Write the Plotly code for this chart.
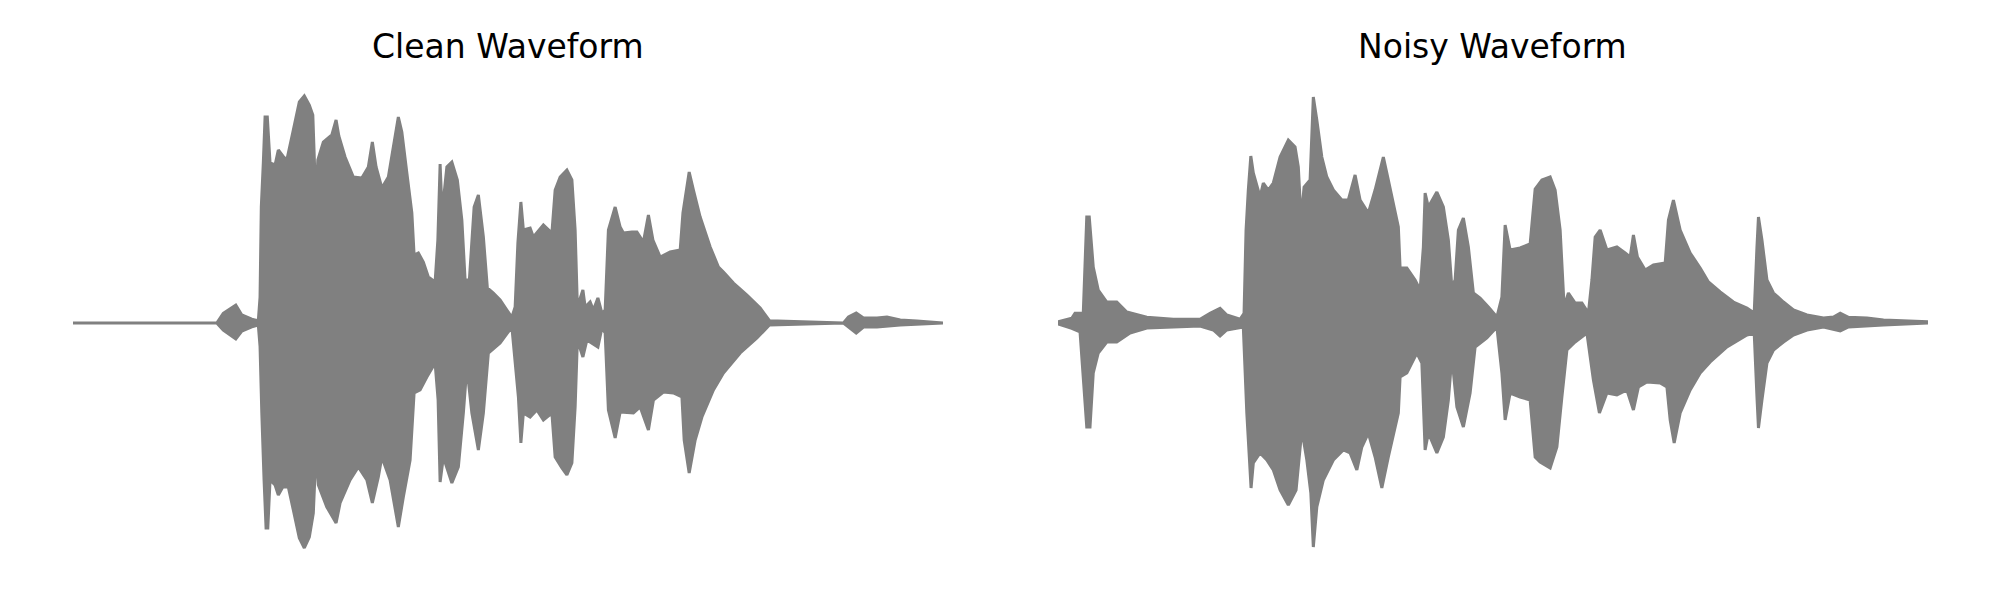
import plotly.graph_objects as go

# ---------------- data: waveform envelopes (time in s, amplitude) ----------------
titles = ["Clean Waveform", "Noisy Waveform"]
duration = 3.479

clean_upper_t = [0.000, 0.575, 0.601, 0.651, 0.675, 0.715, 0.741, 0.748, 0.753, 0.761, 0.768, 0.777, 0.788,
                 0.808, 0.821, 0.839, 0.855, 0.881, 0.905, 0.925, 0.945, 0.959, 0.967, 0.972, 0.979, 1.001,
                 1.035, 1.052, 1.063, 1.088, 1.121, 1.155, 1.181, 1.197, 1.212, 1.235, 1.261, 1.281, 1.301,
                 1.315, 1.335, 1.355, 1.364, 1.381, 1.401, 1.421, 1.448, 1.459, 1.468, 1.476, 1.495, 1.515,
                 1.537, 1.555, 1.568, 1.585, 1.604, 1.621, 1.641, 1.657, 1.681, 1.708, 1.735, 1.755, 1.768,
                 1.779, 1.791, 1.801, 1.828, 1.841, 1.881, 1.915, 1.928, 1.948, 1.975, 1.995, 2.008, 2.017,
                 2.039, 2.048, 2.068, 2.081, 2.099, 2.115, 2.128, 2.141, 2.168, 2.188, 2.201, 2.235, 2.255,
                 2.281, 2.301, 2.319, 2.348, 2.388, 2.428, 2.439, 2.464, 2.481, 2.508, 2.548, 2.581, 2.601,
                 2.641, 2.695, 2.748, 2.785, 3.081, 3.101, 3.132, 3.161, 3.215, 3.255, 3.308, 3.375, 3.479]
clean_upper_a = [0.0, 0.0, 0.039, 0.072, 0.032, 0.015, 0.009, 0.104, 0.464, 0.640, 0.824, 0.824, 0.640,
                 0.632, 0.692, 0.668, 0.652, 0.772, 0.884, 0.908, 0.872, 0.832, 0.600, 0.504, 0.652, 0.724,
                 0.752, 0.812, 0.748, 0.664, 0.584, 0.580, 0.624, 0.724, 0.624, 0.540, 0.584, 0.704, 0.824,
                 0.764, 0.600, 0.440, 0.272, 0.280, 0.244, 0.184, 0.164, 0.332, 0.636, 0.440, 0.624, 0.644,
                 0.572, 0.412, 0.172, 0.172, 0.464, 0.512, 0.344, 0.140, 0.120, 0.092, 0.052, 0.023, 0.064,
                 0.320, 0.484, 0.372, 0.380, 0.344, 0.392, 0.360, 0.532, 0.584, 0.612, 0.572, 0.372, 0.064,
                 0.132, 0.064, 0.084, 0.052, 0.100, 0.039, 0.052, 0.372, 0.464, 0.384, 0.360, 0.364, 0.364,
                 0.324, 0.432, 0.332, 0.264, 0.284, 0.292, 0.440, 0.604, 0.532, 0.424, 0.304, 0.224, 0.204,
                 0.160, 0.112, 0.060, 0.009, 0.0, 0.024, 0.040, 0.020, 0.020, 0.024, 0.012, 0.008, 0.0]

clean_lower_t = [0.000, 0.575, 0.601, 0.651, 0.675, 0.715, 0.741, 0.748, 0.755, 0.764, 0.772, 0.779, 0.788,
                 0.808, 0.821, 0.839, 0.861, 0.881, 0.905, 0.925, 0.945, 0.961, 0.972, 0.981, 1.015, 1.052,
                 1.068, 1.108, 1.141, 1.175, 1.197, 1.221, 1.235, 1.268, 1.301, 1.321, 1.348, 1.364, 1.388,
                 1.415, 1.448, 1.460, 1.468, 1.481, 1.515, 1.541, 1.561, 1.575, 1.595, 1.621, 1.641, 1.661,
                 1.708, 1.755, 1.781, 1.791, 1.801, 1.828, 1.855, 1.881, 1.915, 1.928, 1.955, 1.975, 1.995,
                 2.008, 2.017, 2.039, 2.055, 2.099, 2.115, 2.128, 2.141, 2.168, 2.188, 2.241, 2.268, 2.301,
                 2.321, 2.361, 2.401, 2.435, 2.444, 2.464, 2.488, 2.515, 2.561, 2.601, 2.668, 2.735, 2.785,
                 3.081, 3.132, 3.161, 3.215, 3.308, 3.479]
clean_lower_a = [0.0, 0.0, -0.028, -0.064, -0.032, -0.015, -0.008, -0.095, -0.360, -0.628, -0.820, -0.820,
                 -0.628, -0.648, -0.688, -0.656, -0.656, -0.748, -0.860, -0.900, -0.856, -0.760, -0.508,
                 -0.648, -0.736, -0.800, -0.720, -0.628, -0.576, -0.628, -0.720, -0.616, -0.536, -0.628,
                 -0.816, -0.696, -0.548, -0.280, -0.268, -0.216, -0.160, -0.308, -0.636, -0.536, -0.640,
                 -0.576, -0.360, -0.176, -0.360, -0.508, -0.360, -0.120, -0.080, -0.016, -0.295, -0.480,
                 -0.360, -0.376, -0.348, -0.388, -0.360, -0.536, -0.580, -0.608, -0.560, -0.336, -0.068,
                 -0.136, -0.068, -0.096, -0.020, -0.040, -0.348, -0.460, -0.356, -0.360, -0.336, -0.428,
                 -0.308, -0.276, -0.280, -0.296, -0.468, -0.600, -0.468, -0.376, -0.268, -0.200, -0.120,
                 -0.060, -0.008, 0.0, -0.040, -0.016, -0.016, -0.008, 0.0]

noisy_upper_t = [0.000, 0.055, 0.068, 0.101, 0.115, 0.125, 0.141, 0.161, 0.195, 0.235, 0.275, 0.355, 0.461,
                 0.568, 0.608, 0.648, 0.675, 0.728, 0.744, 0.752, 0.761, 0.771, 0.781, 0.808, 0.821, 0.841,
                 0.861, 0.888, 0.921, 0.948, 0.961, 0.972, 0.984, 1.008, 1.021, 1.035, 1.055, 1.075, 1.101,
                 1.135, 1.161, 1.188, 1.208, 1.241, 1.268, 1.301, 1.321, 1.361, 1.368, 1.395, 1.428, 1.448,
                 1.461, 1.468, 1.481, 1.515, 1.541, 1.561, 1.575, 1.588, 1.601, 1.621, 1.641, 1.661, 1.688,
                 1.721, 1.755, 1.775, 1.788, 1.808, 1.848, 1.888, 1.908, 1.935, 1.968, 1.988, 2.008, 2.024,
                 2.041, 2.068, 2.095, 2.121, 2.135, 2.148, 2.168, 2.195, 2.235, 2.268, 2.288, 2.301, 2.317,
                 2.348, 2.381, 2.428, 2.441, 2.461, 2.488, 2.528, 2.568, 2.601, 2.648, 2.701, 2.755, 2.784,
                 2.795, 2.801, 2.815, 2.835, 2.861, 2.901, 2.941, 2.995, 3.061, 3.101, 3.128, 3.161, 3.235,
                 3.301, 3.479]
noisy_upper_a = [0.005, 0.019, 0.039, 0.039, 0.424, 0.424, 0.224, 0.132, 0.084, 0.084, 0.044, 0.023, 0.015,
                 0.015, 0.039, 0.059, 0.032, 0.015, 0.039, 0.372, 0.532, 0.668, 0.600, 0.504, 0.560, 0.532,
                 0.560, 0.664, 0.732, 0.704, 0.624, 0.412, 0.544, 0.572, 0.904, 0.812, 0.664, 0.584, 0.532,
                 0.492, 0.492, 0.592, 0.492, 0.440, 0.532, 0.664, 0.572, 0.384, 0.220, 0.220, 0.172, 0.132,
                 0.304, 0.520, 0.464, 0.524, 0.464, 0.332, 0.144, 0.172, 0.372, 0.420, 0.304, 0.120, 0.100,
                 0.064, 0.024, 0.104, 0.392, 0.292, 0.300, 0.316, 0.536, 0.572, 0.584, 0.532, 0.372, 0.064,
                 0.120, 0.080, 0.080, 0.040, 0.172, 0.344, 0.372, 0.292, 0.304, 0.280, 0.264, 0.352, 0.264,
                 0.212, 0.232, 0.240, 0.412, 0.492, 0.372, 0.280, 0.220, 0.164, 0.124, 0.084, 0.060, 0.040,
                 0.304, 0.424, 0.332, 0.172, 0.120, 0.084, 0.052, 0.032, 0.020, 0.024, 0.039, 0.023, 0.020,
                 0.012, 0.005]

noisy_lower_t = [0.000, 0.055, 0.088, 0.115, 0.128, 0.141, 0.161, 0.195, 0.235, 0.288, 0.355, 0.568, 0.621,
                 0.648, 0.675, 0.741, 0.755, 0.765, 0.772, 0.781, 0.808, 0.835, 0.861, 0.888, 0.921, 0.952,
                 0.975, 0.995, 1.011, 1.021, 1.035, 1.061, 1.101, 1.141, 1.168, 1.195, 1.215, 1.241, 1.268,
                 1.295, 1.321, 1.361, 1.368, 1.395, 1.435, 1.455, 1.468, 1.481, 1.515, 1.541, 1.561, 1.575,
                 1.595, 1.621, 1.648, 1.668, 1.715, 1.755, 1.775, 1.788, 1.808, 1.848, 1.888, 1.908, 1.928,
                 1.968, 1.995, 2.015, 2.035, 2.068, 2.115, 2.141, 2.165, 2.195, 2.235, 2.275, 2.301, 2.321,
                 2.355, 2.408, 2.435, 2.448, 2.464, 2.488, 2.528, 2.568, 2.608, 2.675, 2.755, 2.784, 2.795,
                 2.801, 2.815, 2.835, 2.861, 2.901, 2.941, 2.995, 3.061, 3.128, 3.161, 3.301, 3.479]
noisy_lower_a = [-0.004, -0.021, -0.035, -0.416, -0.416, -0.200, -0.120, -0.076, -0.076, -0.040, -0.020,
                 -0.012, -0.028, -0.052, -0.028, -0.016, -0.360, -0.536, -0.660, -0.560, -0.520, -0.548,
                 -0.588, -0.668, -0.728, -0.668, -0.428, -0.548, -0.680, -0.896, -0.736, -0.628, -0.548,
                 -0.508, -0.520, -0.588, -0.496, -0.440, -0.536, -0.660, -0.536, -0.360, -0.216, -0.200,
                 -0.120, -0.160, -0.508, -0.440, -0.520, -0.456, -0.308, -0.136, -0.336, -0.416, -0.280,
                 -0.096, -0.060, -0.016, -0.200, -0.388, -0.280, -0.296, -0.308, -0.536, -0.556, -0.580,
                 -0.496, -0.296, -0.108, -0.076, -0.040, -0.228, -0.360, -0.280, -0.288, -0.268, -0.348,
                 -0.256, -0.236, -0.240, -0.256, -0.388, -0.480, -0.360, -0.268, -0.200, -0.156, -0.096,
                 -0.048, -0.040, -0.296, -0.420, -0.308, -0.160, -0.108, -0.076, -0.048, -0.028, -0.016,
                 -0.032, -0.016, -0.008, 0.0]

# ---------------- figure ----------------
GRAY = "#808080"
W, H = 2000, 600
PAGE_OFFSET = 8  # default page margin of the HTML body
fig = go.Figure()

panels = [
    (clean_upper_t, clean_upper_a, clean_lower_t, clean_lower_a, "x", "y"),
    (noisy_upper_t, noisy_upper_a, noisy_lower_t, noisy_lower_a, "x2", "y2"),
]
for ut, ua, lt, la, xa, ya in panels:
    xs = list(ut) + list(reversed(lt))
    ys = list(ua) + list(reversed(la))
    fig.add_trace(go.Scatter(
        x=xs, y=ys, mode="lines", fill="toself", fillcolor=GRAY,
        line=dict(color=GRAY, width=3, shape="linear", simplify=False), xaxis=xa, yaxis=ya,
        showlegend=False, hoverinfo="skip"))

o = PAGE_OFFSET
x_domains = [[(73 - o) / W, (943 - o) / W], [(1058 - o) / W, (1928 - o) / W]]
center_px = 323 - o
px_per_unit = 250
y_range = [-(H - center_px) / px_per_unit, center_px / px_per_unit]

fig.update_layout(
    width=W, height=H,
    margin=dict(l=0, r=0, t=0, b=0),
    paper_bgcolor="white", plot_bgcolor="white",
    xaxis=dict(domain=x_domains[0], range=[0, duration], visible=False),
    yaxis=dict(domain=[0, 1], range=y_range, visible=False),
    xaxis2=dict(domain=x_domains[1], range=[0, duration], visible=False),
    yaxis2=dict(domain=[0, 1], range=y_range, visible=False, anchor="x2"),
    font=dict(family="DejaVu Sans", color="black"),
)

for i, t in enumerate(titles):
    d = x_domains[i]
    fig.add_annotation(
        text=t, x=(d[0] + d[1]) / 2, y=1 - (46 - o) / H, xref="paper", yref="paper",
        xanchor="center", yanchor="middle", showarrow=False,
        font=dict(family="DejaVu Sans", size=33, color="black"))

fig.write_html("out.html")
